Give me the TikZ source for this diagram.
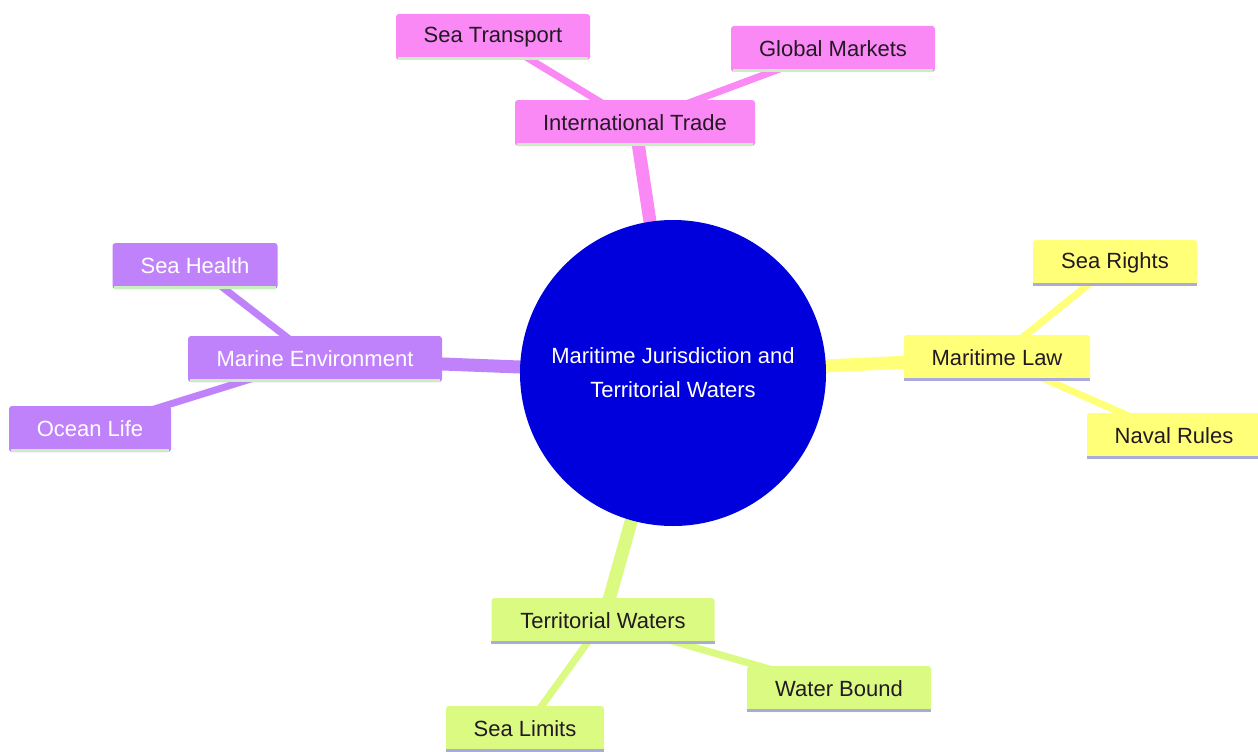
\documentclass[tikz,border=0pt]{standalone}
\usepackage{fontspec}
\setmainfont{Liberation Sans}
\definecolor{pinkc}{RGB}{250,136,245}
\definecolor{purpc}{RGB}{192,130,250}
\definecolor{yellc}{RGB}{255,255,120}
\definecolor{greenc}{RGB}{218,250,130}
\definecolor{rootc}{RGB}{0,0,220}
\definecolor{lavline}{RGB}{170,170,220}
\definecolor{grnline}{RGB}{200,240,190}
\definecolor{darktxt}{RGB}{35,25,35}
\pgfdeclarelayer{bg}
\pgfsetlayers{bg,main}
\begin{document}
\begin{tikzpicture}[x=1pt,y=-1pt,
  box/.style={rectangle,rounded corners=3pt,minimum height=46pt,inner sep=0pt,
    font=\fontsize{22}{26}\selectfont},
  pinkbox/.style={box,fill=pinkc,text=darktxt},
  purpbox/.style={box,fill=purpc,text=white},
  yellbox/.style={box,fill=yellc,text=darktxt},
  greenbox/.style={box,fill=greenc,text=darktxt},
  rootedge/.style={line width=13pt},
  leafedge/.style={line width=7pt},
  underline/.style={line width=3.5pt}]
\useasboundingbox (0,0) rectangle (1258,752);

\node[circle,fill=rootc,minimum size=306pt,inner sep=0pt,text=white,align=center,
  font=\fontsize{22}{34}\selectfont] (root) at (673,373)
  {Maritime Jurisdiction and\\Territorial Waters};

\node[pinkbox,minimum width=240pt] (it) at (635,123) {International Trade};
\node[pinkbox,minimum width=194pt] (st) at (493,37) {Sea Transport};
\node[pinkbox,minimum width=204pt] (gm) at (833,49) {Global Markets};

\node[purpbox,minimum width=254pt] (me) at (315,359) {Marine Environment};
\node[purpbox,minimum width=165pt] (sh) at (195,266) {Sea Health};
\node[purpbox,minimum width=162pt] (ol) at (90,429) {Ocean Life};

\node[yellbox,minimum width=186pt] (ml) at (997,358) {Maritime Law};
\node[yellbox,minimum width=164pt] (sr) at (1115,263) {Sea Rights};
\node[yellbox,minimum width=174pt] (nr) at (1174,436) {Naval Rules};

\node[greenbox,minimum width=223pt] (tw) at (603,621) {Territorial Waters};
\node[greenbox,minimum width=184pt] (wb) at (839,689) {Water Bound};
\node[greenbox,minimum width=158pt] (sl) at (525,729) {Sea Limits};

\begin{pgfonlayer}{bg}
\fill[white] (0,0) rectangle (1258,752);
\draw[rootedge,pinkc] (root.center) -- (it.center);
\draw[rootedge,purpc] (root.center) -- (me.center);
\draw[rootedge,yellc] (root.center) -- (ml.center);
\draw[rootedge,greenc] (root.center) -- (tw.center);
\draw[leafedge,pinkc] (it.center) -- (st.center);
\draw[leafedge,pinkc] (it.center) -- (gm.center);
\draw[leafedge,purpc] (me.center) -- (sh.center);
\draw[leafedge,purpc] (me.center) -- (ol.center);
\draw[leafedge,yellc] (ml.center) -- (sr.center);
\draw[leafedge,yellc] (ml.center) -- (nr.center);
\draw[leafedge,greenc] (tw.center) -- (wb.center);
\draw[leafedge,greenc] (tw.center) -- (sl.center);
\end{pgfonlayer}

\foreach \n in {it,st,gm,me,sh,ol}
  \draw[underline,grnline] ([xshift=2pt,yshift=1.5pt]\n.south west) -- ([xshift=-2pt,yshift=1.5pt]\n.south east);
\foreach \n in {ml,sr,nr,tw,wb,sl}
  \draw[underline,lavline] ([yshift=1.5pt]\n.south west) -- ([yshift=1.5pt]\n.south east);
\end{tikzpicture}
\end{document}
